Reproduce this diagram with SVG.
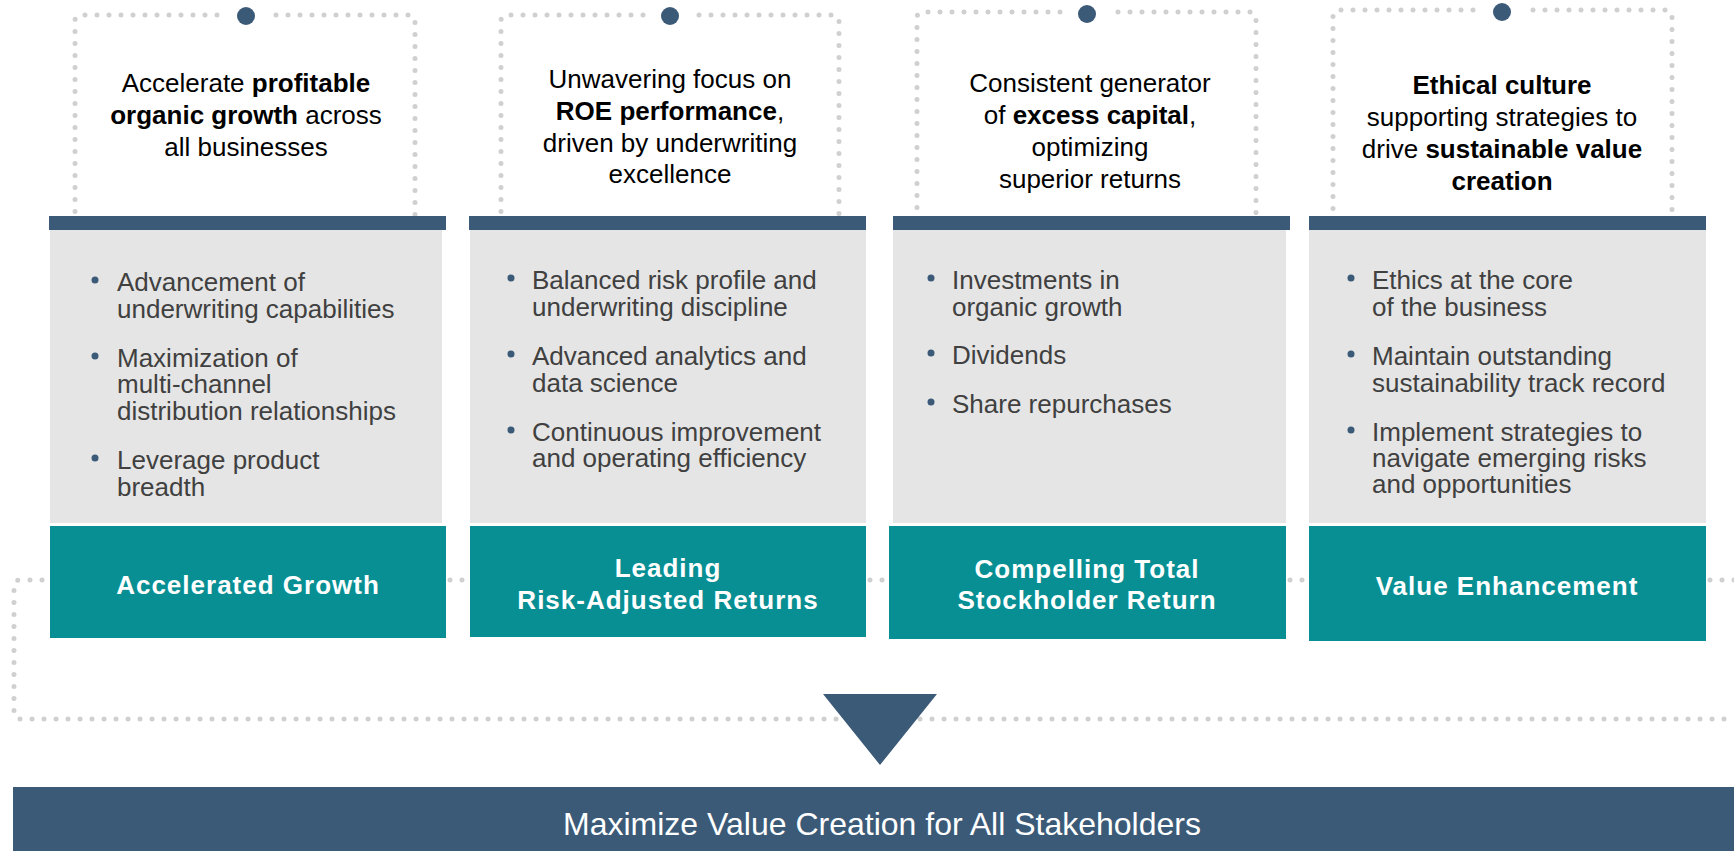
<svg xmlns="http://www.w3.org/2000/svg" width="1734" height="851" viewBox="0 0 1734 851">
<style>
.dots{fill:none;stroke:#d0d0d0;stroke-width:5;stroke-linecap:round;stroke-dasharray:0 12}
.pin{fill:#3b5a78}
.bar{fill:#3b5a78}
.panel{fill:#e5e5e5}
.teal{fill:#078f94}
.head{font-family:"Liberation Sans",Arial,sans-serif;font-size:26px;fill:#000;text-anchor:middle}
.b{font-weight:bold}
.item{font-family:"Liberation Sans",Arial,sans-serif;font-size:26px;fill:#404040}
.bul{fill:#3b5a78}
.title{font-family:"Liberation Sans",Arial,sans-serif;font-size:26px;font-weight:bold;fill:#fff;text-anchor:middle;letter-spacing:1px}
.foot{font-family:"Liberation Sans",Arial,sans-serif;font-size:32px;fill:#fff;text-anchor:middle}
</style>
<rect width="1734" height="851" fill="#fff"/>
<g id="connectors">
<path class="dots" d="M 1734 580 H 20 Q 14 580 14 586 V 713 Q 14 719 20 719 H 1734"/>
<path class="dots" d="M 276 15 H 409 Q 415 15 415 21 V 236"/>
<path class="dots" d="M 217 15 H 81 Q 75 15 75 21 V 236"/>
<path class="dots" d="M 699 15 H 833 Q 839 15 839 21 V 236"/>
<path class="dots" d="M 643 15 H 507 Q 501 15 501 21 V 236"/>
<path class="dots" d="M 1118 12 H 1250 Q 1256 12 1256 18 V 236"/>
<path class="dots" d="M 1060 12 H 923 Q 917 12 917 18 V 236"/>
<path class="dots" d="M 1533 10 H 1666 Q 1672 10 1672 16 V 236"/>
<path class="dots" d="M 1473 10 H 1339 Q 1333 10 1333 16 V 236"/>
</g>
<g id="col1">
<circle class="pin" cx="246" cy="16" r="9"/>
<text class="head" x="246" y="92">Accelerate <tspan class="b">profitable</tspan></text>
<text class="head" x="246" y="124"><tspan class="b">organic growth</tspan> across</text>
<text class="head" x="246" y="156">all businesses</text>
<rect class="bar" x="49" y="216" width="397" height="14"/>
<rect class="panel" x="50" y="230" width="392" height="293"/>
<circle class="bul" cx="95" cy="280" r="3.5"/>
<text class="item" x="117" y="291">Advancement of</text>
<text class="item" x="117" y="318">underwriting capabilities</text>
<circle class="bul" cx="95" cy="356" r="3.5"/>
<text class="item" x="117" y="367">Maximization of</text>
<text class="item" x="117" y="393">multi-channel</text>
<text class="item" x="117" y="420">distribution relationships</text>
<circle class="bul" cx="95" cy="458" r="3.5"/>
<text class="item" x="117" y="469">Leverage product</text>
<text class="item" x="117" y="496">breadth</text>
<rect class="teal" x="50" y="526" width="396" height="112"/>
<text class="title" x="248" y="594">Accelerated Growth</text>
</g>
<g id="col2">
<circle class="pin" cx="670" cy="16" r="9"/>
<text class="head" x="670" y="88">Unwavering focus on</text>
<text class="head" x="670" y="120"><tspan class="b">ROE performance</tspan>,</text>
<text class="head" x="670" y="152">driven by underwriting</text>
<text class="head" x="670" y="183">excellence</text>
<rect class="bar" x="469" y="216" width="397" height="14"/>
<rect class="panel" x="470" y="230" width="396" height="293"/>
<circle class="bul" cx="511" cy="278" r="3.5"/>
<text class="item" x="532" y="289">Balanced risk profile and</text>
<text class="item" x="532" y="316">underwriting discipline</text>
<circle class="bul" cx="511" cy="354" r="3.5"/>
<text class="item" x="532" y="365">Advanced analytics and</text>
<text class="item" x="532" y="392">data science</text>
<circle class="bul" cx="511" cy="430" r="3.5"/>
<text class="item" x="532" y="441">Continuous improvement</text>
<text class="item" x="532" y="467">and operating efficiency</text>
<rect class="teal" x="470" y="526" width="396" height="111"/>
<text class="title" x="668" y="577">Leading</text>
<text class="title" x="668" y="609">Risk-Adjusted Returns</text>
</g>
<g id="col3">
<circle class="pin" cx="1087" cy="14" r="9"/>
<text class="head" x="1090" y="92">Consistent generator</text>
<text class="head" x="1090" y="124">of <tspan class="b">excess capital</tspan>,</text>
<text class="head" x="1090" y="156">optimizing</text>
<text class="head" x="1090" y="188">superior returns</text>
<rect class="bar" x="893" y="216" width="397" height="14"/>
<rect class="panel" x="893" y="230" width="393" height="293"/>
<circle class="bul" cx="931" cy="278" r="3.5"/>
<text class="item" x="952" y="289">Investments in</text>
<text class="item" x="952" y="316">organic growth</text>
<circle class="bul" cx="931" cy="353" r="3.5"/>
<text class="item" x="952" y="364">Dividends</text>
<circle class="bul" cx="931" cy="402" r="3.5"/>
<text class="item" x="952" y="413">Share repurchases</text>
<rect class="teal" x="889" y="526" width="397" height="113"/>
<text class="title" x="1087" y="578">Compelling Total</text>
<text class="title" x="1087" y="609">Stockholder Return</text>
</g>
<g id="col4">
<circle class="pin" cx="1502" cy="12" r="9"/>
<text class="head" x="1502" y="94"><tspan class="b">Ethical culture</tspan></text>
<text class="head" x="1502" y="126">supporting strategies to</text>
<text class="head" x="1502" y="158">drive <tspan class="b">sustainable value</tspan></text>
<text class="head" x="1502" y="190"><tspan class="b">creation</tspan></text>
<rect class="bar" x="1309" y="216" width="397" height="14"/>
<rect class="panel" x="1309" y="230" width="397" height="293"/>
<circle class="bul" cx="1351" cy="278" r="3.5"/>
<text class="item" x="1372" y="289">Ethics at the core</text>
<text class="item" x="1372" y="316">of the business</text>
<circle class="bul" cx="1351" cy="354" r="3.5"/>
<text class="item" x="1372" y="365">Maintain outstanding</text>
<text class="item" x="1372" y="392">sustainability track record</text>
<circle class="bul" cx="1351" cy="430" r="3.5"/>
<text class="item" x="1372" y="441">Implement strategies to</text>
<text class="item" x="1372" y="467">navigate emerging risks</text>
<text class="item" x="1372" y="493">and opportunities</text>
<rect class="teal" x="1309" y="526" width="397" height="115"/>
<text class="title" x="1507" y="595">Value Enhancement</text>
</g>
<g id="arrow">
<polygon class="bar" points="823,694 937,694 880,765"/>
</g>
<g id="footer">
<rect class="bar" x="13" y="787" width="1721" height="64"/>
<text class="foot" x="882" y="835">Maximize Value Creation for All Stakeholders</text>
</g>
</svg>
